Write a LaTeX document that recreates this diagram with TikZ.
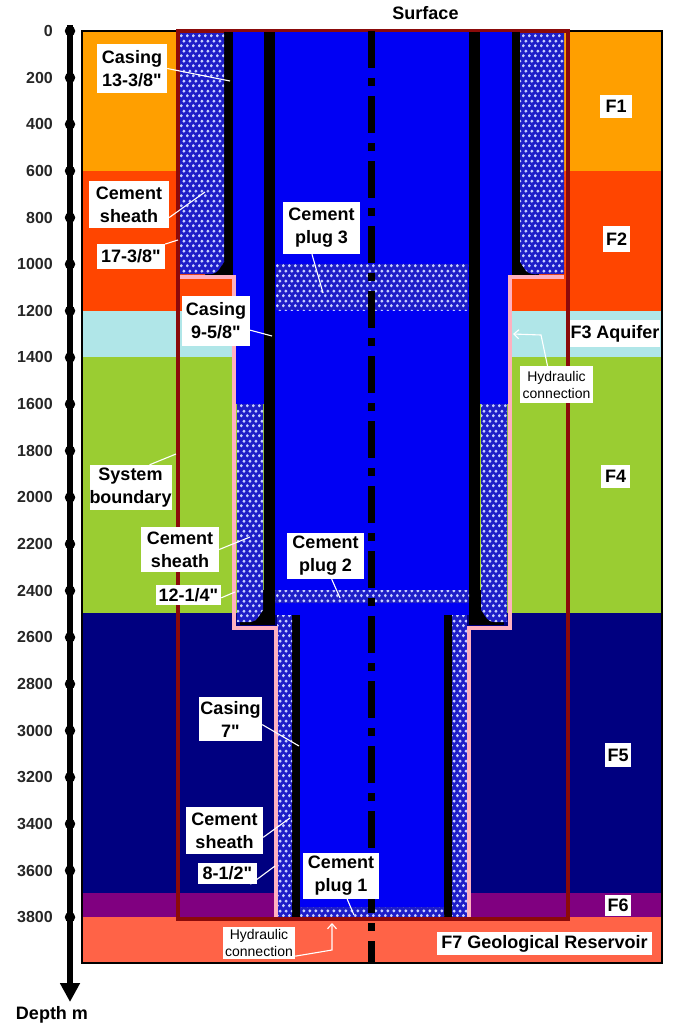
\documentclass[tikz,border=0pt]{standalone}
\usepackage{fontspec}
\setmainfont{Liberation Sans}[Ligatures=TeXOff]
\usetikzlibrary{arrows.meta,patterns}
\pgfdeclarepatternformonly{cemdots}{\pgfpointorigin}{\pgfqpoint{6pt}{10pt}}{\pgfqpoint{6pt}{10pt}}{%
  \pgfpathcircle{\pgfqpoint{1.5pt}{2.5pt}}{1.8pt}%
  \pgfpathcircle{\pgfqpoint{4.5pt}{7.5pt}}{1.8pt}%
  \pgfusepath{fill}}
\definecolor{fone}{HTML}{FF9F00}
\definecolor{ftwo}{HTML}{FF4500}
\definecolor{fthree}{HTML}{B0E6E8}
\definecolor{ffour}{HTML}{9ACD32}
\definecolor{ffive}{HTML}{000080}
\definecolor{fsix}{HTML}{800080}
\definecolor{fseven}{HTML}{FF6347}
\definecolor{bound}{HTML}{8B0A0A}
\definecolor{pinkl}{HTML}{FFB0C0}
\definecolor{wellblue}{HTML}{0000F4}
\definecolor{cembase}{HTML}{1E1EC8}
\definecolor{cemdot}{HTML}{C8D0FF}
\tikzset{
  cem/.style={fill=cembase,postaction={pattern=cemdots,pattern color=cemdot}},
  lblbox/.style={fill=white,inner sep=0pt,align=center,font=\bfseries\fontsize{18}{23}\selectfont},
  smallbox/.style={lblbox,font=\fontsize{14}{17}\selectfont},
  lead/.style={white,line width=1.1pt},
  leadarrow/.style={white,line width=1.1pt,-{Straight Barb[length=5pt,width=9pt]}},
  ticklab/.style={anchor=east,inner sep=0pt,font=\bfseries\fontsize{16}{18}\selectfont,text=black!85},
  tickdot/.style={circle,fill=black,inner sep=0pt,minimum size=10.5pt},
  plain/.style={inner sep=0pt,font=\bfseries\fontsize{18}{20}\selectfont}
}
\newcommand{\lbl}[7][lblbox]{%
  \pgfmathsetmacro\lw{#5-#3}\pgfmathsetmacro\lh{#6-#4}%
  \pgfmathsetmacro\lx{(#3+#5)/2}\pgfmathsetmacro\ly{(#4+#6)/2}%
  \node[#1,minimum width=\lw pt,minimum height=\lh pt] (#2) at (\lx,\ly) {#7};}
\newcommand{\wellside}{%
  % outer casing annulus
  \fill[wellblue] (232,31) rectangle (264,275);
  \fill[wellblue] (236,275) rectangle (264,404);
  \fill[black] (224,31) rectangle (232.5,275);
  \fill[black] (205,255) rectangle (224,275);
  \path[cem] (180,33) -- (224,33) -- (224,262) [rounded corners=5pt] -- (216,274) [sharp corners] -- (180,274) -- cycle;
  % second string
  \fill[black] (264,31) rectangle (275,625);
  \fill[black] (240,590) rectangle (264,625);
  \path[cem] (237,404) -- (263,404) -- (263,610) [rounded corners=5pt] -- (255,622) [sharp corners] -- (237,622) -- cycle;
  % third string
  \fill[black] (292,615) rectangle (300,917);
  \path[cem] (277,615) rectangle (292,917);
  % pink hole outline
  \draw[pinkl,line width=4pt,line join=miter] (180,277) -- (234.2,277) -- (234.2,627.5) -- (275.5,627.5) -- (275.5,917);
}
\begin{document}
\begin{tikzpicture}[x=1pt,y=-1pt]
\useasboundingbox (0,0) rectangle (680,1028);
% formations
\fill[fone] (82,31) rectangle (662,171);
\fill[ftwo] (82,171) rectangle (662,311);
\fill[fthree] (82,311) rectangle (662,357);
\fill[ffour] (82,357) rectangle (662,613);
\fill[ffive] (82,613) rectangle (662,893);
\fill[fsix] (82,893) rectangle (662,917);
\fill[fseven] (82,917) rectangle (662,963);
\draw[black,line width=1.8pt] (82,31) rectangle (662,963);
% system boundary
\draw[bound,line width=4pt] (178,31) rectangle (568,919);
% inner bore
\fill[wellblue] (275,31) rectangle (469,615);
\fill[wellblue] (300,615) rectangle (444,917);
% both sides of the well
\wellside
\begin{scope}[shift={(744,0)},xscale=-1]
\wellside
\end{scope}
% plugs
\path[cem] (276,264) rectangle (468,310);
\path[cem] (275,590) rectangle (469,603);
\path[cem] (300,907) rectangle (444,917);
% boundary top and bottom on top of well
\draw[bound,line width=2pt] (178,31) -- (568,31);
\draw[bound,line width=4pt] (176,919) -- (570,919);
% centre line
\draw[black,line width=6.5pt,dash pattern=on 37pt off 10pt on 8pt off 10pt] (371.5,31) -- (371.5,963);
% depth axis
\coordinate (axtop) at (70,25);
\coordinate (axend) at (70,1002);
\draw[black,line width=5.5pt,-{Triangle[length=19pt,width=19pt]}] (axtop) -- (axend);
\foreach \d in {0,200,...,3800}{
  \pgfmathsetmacro\yy{31+\d*0.2332}
  \node[tickdot] (tick\d) at (70,\yy) {};
  \node[ticklab] (lab\d) at (53,\yy) {\d};
}
\node[plain] (surface) at (425.5,13) {Surface};
\node[plain] (depth) at (52,1015) {Depth m};
% targets
\coordinate (t1) at (230,81);
\coordinate (t2) at (205,192);
\coordinate (t3) at (178,240);
\coordinate (t4) at (272,336);
\coordinate (t5) at (323,293);
\coordinate (t6) at (176,454);
\coordinate (t7) at (250,537);
\coordinate (t8) at (235,592);
\coordinate (t9) at (340,598);
\coordinate (t10) at (299,746);
\coordinate (t11) at (290,818);
\coordinate (t12) at (275,866);
\coordinate (t13) at (354,915);
\coordinate (h1a) at (541,335);
\coordinate (h1t) at (513,334);
\coordinate (h2a) at (332,950);
\coordinate (h2t) at (332,923);
% labels
\lbl{casA}{97}{44}{167}{93}{Casing\\13-3/8"}
\lbl{shA}{89}{181}{169}{228}{Cement\\sheath}
\lbl{szA}{97}{244}{165}{269}{17-3/8"}
\lbl{casB}{182}{296}{250}{346}{Casing\\9-5/8"}
\lbl{plugC}{283}{202}{360}{254}{Cement\\plug 3}
\lbl{sysb}{90}{465}{171}{510}{System\\boundary}
\lbl{shB}{141}{527}{219}{572}{Cement\\sheath}
\lbl{szB}{156}{585}{221}{605}{12-1/4"}
\lbl{plugB}{287}{533}{364}{579}{Cement\\plug 2}
\lbl{casC}{199}{697}{262}{741}{Casing\\7"}
\lbl{shC}{186}{807}{263}{854}{Cement\\sheath}
\lbl{szC}{198}{863}{257}{884}{8-1/2"}
\lbl{plugA}{303}{853}{379}{899}{Cement\\plug 1}
\lbl[smallbox]{hydA}{520}{366}{593}{403}{Hydraulic\\connection}
\lbl[smallbox]{hydB}{223}{927}{295}{959}{Hydraulic\\connection}
\lbl{fa}{600}{95}{632}{118}{F1}
\lbl{fb}{603}{226}{630}{252}{F2}
\lbl{fc}{570}{320}{660}{347}{F3 Aquifer}
\lbl{fd}{601}{465}{630}{488}{F4}
\lbl{fe}{605}{743}{631}{767}{F5}
\lbl{ff}{605}{895}{631}{916}{F6}
\lbl{fg}{437}{932}{652}{955}{F7 Geological Reservoir}
% leaders
\draw[lead] (casA.east) -- (t1);
\draw[lead] (shA.-18) -- (t2);
\draw[lead] (szA.20) -- (t3);
\draw[lead] (casB.-15) -- (t4);
\draw[lead] (plugC.-110) -- (t5);
\draw[lead] (sysb.50) -- (t6);
\draw[lead] (shB.east) -- (t7);
\draw[lead] (szB.-5) -- (t8);
\draw[lead] (plugB.-75) -- (t9);
\draw[lead] (casC.-10) -- (t10);
\draw[lead] (shC.-10) -- (t11);
\draw[lead] (szC.-25) -- (t12);
\draw[lead] (plugA.-75) -- (t13);
\draw[leadarrow] (hydA.north) ++(-9,0) -- (h1a) -- (h1t);
\draw[leadarrow] (hydB.-20) -- (h2a) -- (h2t);
\end{tikzpicture}
\end{document}
